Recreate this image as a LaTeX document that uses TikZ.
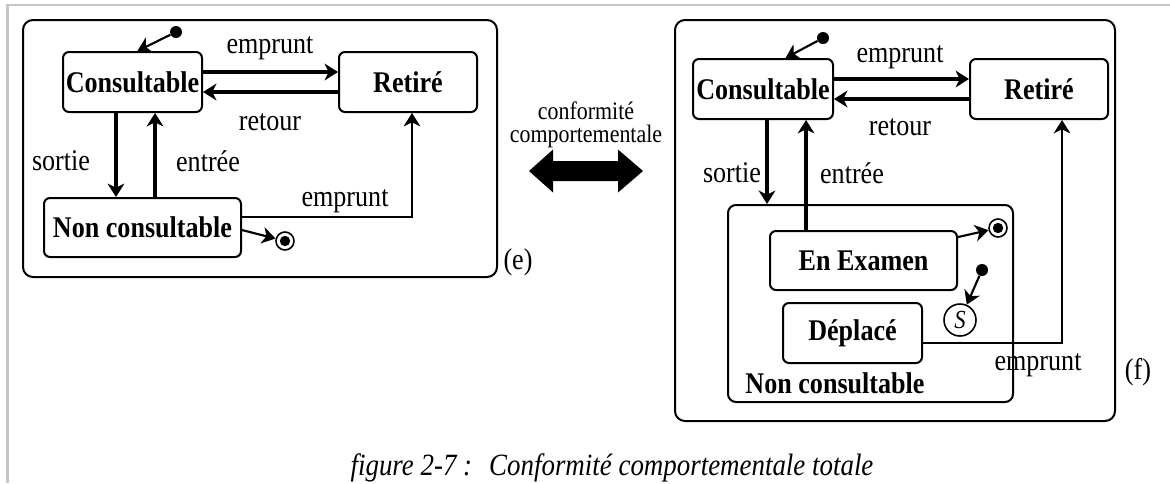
\documentclass[tikz,border=0pt]{standalone}
\usepackage{fontspec}
\setmainfont{Liberation Serif}[FakeStretch=0.87]
\usetikzlibrary{arrows.meta,calc}

\newcommand{\statefont}{\fontsize{22.5}{25}\selectfont\bfseries}
\newcommand{\labelfont}{\fontsize{22.5}{25}\selectfont}
\newcommand{\midfont}{\fontsize{18.9}{17.25}\selectfont}
\newcommand{\capfont}{\fontsize{23.2}{25}\selectfont\itshape}

\tikzset{
  statebox/.style={draw, line width=1.5pt, rounded corners=4.5pt, font=\statefont,
                   inner sep=0pt, align=center},
  region/.style={draw, line width=1.5pt, rounded corners=7.5pt},
  tip/.style={-{Stealth[length=10pt,width=12.5pt,inset=3pt]}},
  trans/.style={tip, line width=2.5pt},
  thintrans/.style={tip, line width=1.6pt},
  lbl/.style={font=\labelfont, inner sep=0pt},
  initial/.style={circle, fill, inner sep=0pt, minimum size=9pt},
  finalring/.style={circle, draw, line width=1.2pt, inner sep=0pt, minimum size=13.5pt},
  histnode/.style={circle, draw, line width=1.2pt, inner sep=0pt, minimum size=24pt,
                   font=\fontsize{19.5}{22}\selectfont\itshape}
}

\begin{document}
\begin{tikzpicture}[x=0.75pt,y=-0.75pt]
\useasboundingbox (0,0) rectangle (1170,483);

% page frame
\draw[gray!45, line width=1.6pt] (1170,5) -- (7.5,5) -- (7.5,483);

% ---------------- machine (e) ----------------
\draw[region] (23,20) rectangle (497,277);
\node[statebox, minimum width=104.25pt, minimum height=45pt] (c1) at (132.5,82) {Consultable};
\node[statebox, minimum width=103.5pt, minimum height=45pt] (r1) at (408,82) {Retiré};
\node[statebox, minimum width=147.75pt, minimum height=44.25pt] (n1) at (142.5,227.5) {Non consultable};
\node[initial] (i1) at (176,32) {};
\node[finalring] (f1) at (285,241) {};
\fill (f1.center) circle (3.9pt);

\draw[thintrans] (i1) -- (c1.81);
\draw[trans] ([yshift=7.5pt]c1.east) -- ([yshift=7.5pt]r1.west);
\draw[trans] ([yshift=-7.5pt]r1.west) -- ([yshift=-7.5pt]c1.east);
\draw[trans] ([xshift=-12.4pt]c1.south) -- ([xshift=-12.4pt]c1.south |- n1.north);
\draw[trans] ([xshift=16.9pt]c1.south |- n1.north) -- ([xshift=16.9pt]c1.south);
\draw[thintrans] ([yshift=7.9pt]n1.east) -| ([xshift=3pt]r1.south);
\draw[thintrans] ([yshift=-1.9pt]n1.east) -- (f1);

\node[lbl] (l1) at (270,48) {emprunt};
\node[lbl] (l2) at (270,122) {retour};
\node[lbl] (l3) at (61,161) {sortie};
\node[lbl] (l4) at (208,161) {entrée};
\node[lbl] (l5) at (345,201) {emprunt};
\node[lbl] (tagE) at (518,262) {(e)};

% ---------------- relation between the two machines ----------------
\node[font=\midfont, inner sep=0pt, align=center] (rel) at (586,124.5)
  {conformité\\comportementale};
\fill (529,171) -- (553,149.5) -- (553,161) -- (618,161) -- (618,149.5) -- (643,171)
      -- (618,192.5) -- (618,181) -- (553,181) -- (553,192.5) -- cycle;

% ---------------- machine (f) ----------------
\draw[region] (675,20) rectangle (1115,421);
\node[statebox, minimum width=105pt, minimum height=45pt] (c2) at (763,89) {Consultable};
\node[statebox, minimum width=103.5pt, minimum height=45pt] (r2) at (1039,89) {Retiré};
\node[draw, line width=1.5pt, rounded corners=6pt, minimum width=213.75pt,
      minimum height=147.75pt, inner sep=0pt] (nc2) at (870.5,303.5) {};
\node[statebox, minimum width=140.25pt, minimum height=44.25pt] (ex) at (863.5,260.5) {En Examen};
\node[statebox, minimum width=104.25pt, minimum height=45pt] (dp) at (852.5,333) {Déplacé};
\node[font=\statefont, inner sep=0pt] (ncl) at (835,383) {Non consultable};
\node[initial] (i2) at (823,38) {};
\node[initial] (i3) at (982,270) {};
\node[histnode] (hs) at (960,320) {S};
\node[finalring] (f2) at (998,228) {};
\fill (f2.center) circle (3.9pt);

\draw[thintrans] (i2) -- (c2.54);
\draw[trans] ([yshift=7.5pt]c2.east) -- ([yshift=7.5pt]r2.west);
\draw[trans] ([yshift=-7.5pt]r2.west) -- ([yshift=-7.5pt]c2.east);
\draw[trans] ([xshift=3pt]c2.south) -- ([xshift=3pt]c2.south |- nc2.north);
\draw[trans] ([xshift=-43.1pt]ex.north) -- ([xshift=-43.1pt]ex.north |- c2.south);
\draw[thintrans] ([yshift=-7.5pt]dp.east) -| ([xshift=17.25pt]r2.south);
\draw[thintrans] ([yshift=17.6pt]ex.east) -- (f2);
\draw[thintrans] (i3) -- (hs);

\node[lbl] (l6) at (900,57) {emprunt};
\node[lbl] (l7) at (900,127) {retour};
\node[lbl] (l8) at (732,173) {sortie};
\node[lbl] (l9) at (852,173) {entrée};
\node[lbl] (l10) at (1038,365) {emprunt};
\node[lbl] (tagF) at (1138,372) {(f)};

% ---------------- caption ----------------
\node[font=\capfont, inner sep=0pt, anchor=base] (cap) at (612,475)
  {figure 2-7 :\hspace{0.55em}Conformité comportementale totale};
\end{tikzpicture}
\end{document}
